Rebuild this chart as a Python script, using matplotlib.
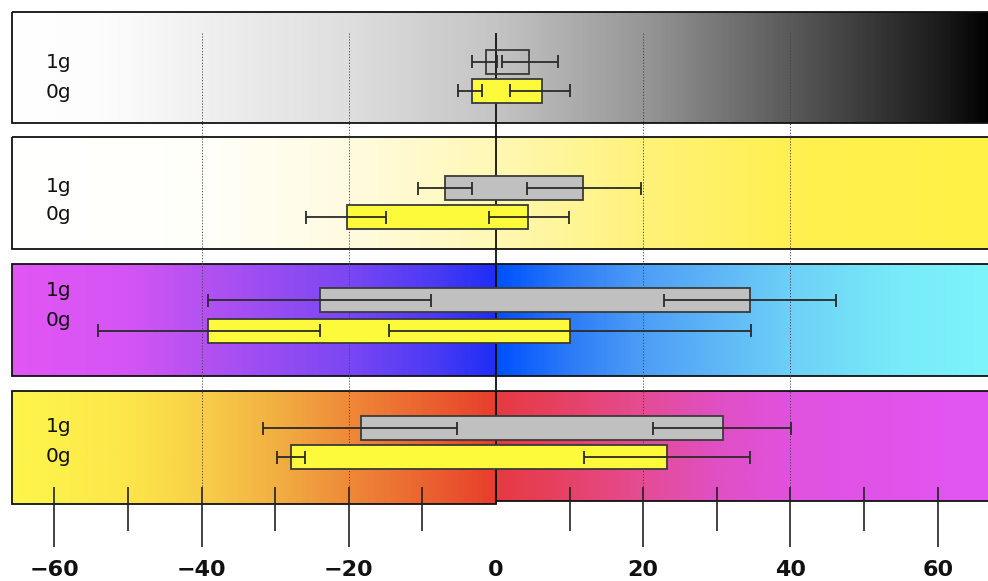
import numpy as np
import matplotlib
matplotlib.use('Agg')
import matplotlib.pyplot as plt
from matplotlib.colors import LinearSegmentedColormap
from matplotlib.patches import Rectangle

plt.rcParams['font.family'] = ['DejaVu Sans']

groups = ['1g', '0g']

# box ends, whisker ends and inner whisker ends for each panel (1g, 0g)
box_lo = [[-1.4, -3.2], [-6.9, -20.2], [-23.9, -39.1], [-18.4, -27.8]]
box_hi = [[4.5, 6.3], [11.8, 4.3], [34.5, 10.0], [30.8, 23.2]]
whisk_lo = [[-3.2, -5.2], [-10.6, -25.8], [-39.1, -54.1], [-31.6, -29.7]]
inner_lo = [[0.2, -1.9], [-3.2, -14.9], [-8.8, -23.9], [-5.3, -25.9]]
inner_hi = [[0.8, 1.9], [4.2, -1.0], [22.8, -14.6], [21.3, 11.9]]
whisk_hi = [[8.4, 10.0], [19.7, 9.9], [46.2, 34.7], [40.1, 34.5]]

major_ticks = [-60, -40, -20, 0, 20, 40, 60]
minor_ticks = [-50, -30, -10, 10, 30, 50]
grid_ticks = [-40, -20, 20, 40]

# background gradients: (x value, colour) stops, split at zero for the lower two
bg_stops = [
    [(-66, '#ffffff'), (-54, '#fdfdfd'), (-40, '#f0f0f0'), (-20, '#dedede'),
     (0, '#c4c4c4'), (20, '#979797'), (40, '#5a5a5a'), (60, '#1e1e1e'), (67.5, '#000000')],
    [(-66, '#ffffff'), (-40, '#fffffa'), (-20, '#fffbe0'), (0, '#fff8b4'),
     (20, '#fff27a'), (40, '#fff050'), (67.5, '#fff245')],
    ([(-66, '#e256f5'), (-50, '#d455f4'), (-40, '#b452f2'), (-20, '#7a47f3'),
      (-8, '#4a3af5'), (0, '#1e2ef5')],
     [(0, '#0050ff'), (10, '#2c7cf8'), (20, '#4e9ef6'), (40, '#6ed0f6'),
      (55, '#78ecfa'), (67.5, '#7df4fc')]),
    ([(-66, '#fdf64c'), (-50, '#fde64a'), (-40, '#f8cf48'), (-30, '#f2b043'),
      (-20, '#ee8a38'), (-10, '#eb6530'), (0, '#e73e2c')],
     [(0, '#e73a40'), (10, '#e6426a'), (20, '#e44c95'), (30, '#e050c4'),
      (40, '#e052df'), (67.5, '#e256f5')]),
]

panel_top = [12, 137, 264, 391]
panel_bottom = [123, 249, 376, 504]
box_y = [[61.5, 90.5], [188, 217], [300, 330.5], [428, 457]]
label_y = [[63, 92], [186, 214], [291, 321], [427, 457]]

x_left, x_right = -67.37, 66.83
panel_left, panel_right = -65.74, 67.5

fig = plt.figure(figsize=(9.88, 5.81), dpi=100)
ax = fig.add_axes([0, 0, 1, 1])
ax.set_xlim(x_left, x_right)
ax.set_ylim(581, 0)
ax.axis('off')


def gradient(stops, x0, x1, top, bottom):
    lo, hi = stops[0][0], stops[-1][0]
    cmap = LinearSegmentedColormap.from_list(
        'bg', [((v - lo) / (hi - lo), c) for v, c in stops])
    xs = np.linspace(x0, x1, 600)
    img = cmap((xs - lo) / (hi - lo))[np.newaxis, :, :3]
    ax.imshow(img, extent=(x0, x1, bottom, top), aspect='auto',
              interpolation='bilinear', zorder=0)
    ax.add_patch(Rectangle((x0, top), x1 - x0, bottom - top, fill=False,
                           edgecolor='#111111', lw=1.3, zorder=1))


for i, stops in enumerate(bg_stops):
    top, bottom = panel_top[i], panel_bottom[i]
    if isinstance(stops, tuple):
        right_bottom = bottom - 3 if i == 3 else bottom
        gradient(stops[0], panel_left, 0, top, bottom)
        gradient(stops[1], 0, panel_right, top, right_bottom)
    else:
        gradient(stops, panel_left, panel_right, top, bottom)

# dotted grid and zero line
ax.vlines(grid_ticks, 33, 487, colors='#444444', lw=0.7,
          linestyles=(0, (1.2, 1.8)), zorder=2)
ax.vlines(0, 33, 504, colors='#111111', lw=1.3, zorder=2)

# tick marks and labels below the panels
ax.vlines([t for t in major_ticks if t != 0], 487, 547, colors='#222222', lw=1.2, zorder=3)
ax.vlines(minor_ticks, 487, 531, colors='#222222', lw=1.2, zorder=3)
for t in major_ticks:
    ax.text(t, 570, str(t).replace('-', '\u2212'), ha='center', va='center',
            fontsize=16, fontweight='bold', color='#111111')

fills = ['#c0c0c0', '#fdfa3c']
cap = 6.5
for i in range(4):
    for j, g in enumerate(groups):
        y = box_y[i][j]
        face = 'none' if (i == 0 and j == 0) else fills[j]
        ax.barh(y, box_hi[i][j] - box_lo[i][j], left=box_lo[i][j], height=24,
                color=face, edgecolor='#3a3a3a', lw=1.3, zorder=4)
        ax.hlines(y, whisk_lo[i][j], inner_lo[i][j], colors='#2a2a2a', lw=1.3, zorder=5)
        ax.hlines(y, inner_hi[i][j], whisk_hi[i][j], colors='#2a2a2a', lw=1.3, zorder=5)
        ax.vlines([whisk_lo[i][j], inner_lo[i][j], inner_hi[i][j], whisk_hi[i][j]],
                  y - cap, y + cap, colors='#2a2a2a', lw=1.3, zorder=5)
        ax.text(-61.2, label_y[i][j], g, ha='left', va='center', fontsize=14.5,
                color='#111111', zorder=6)

fig.savefig('out.png', dpi=100)
